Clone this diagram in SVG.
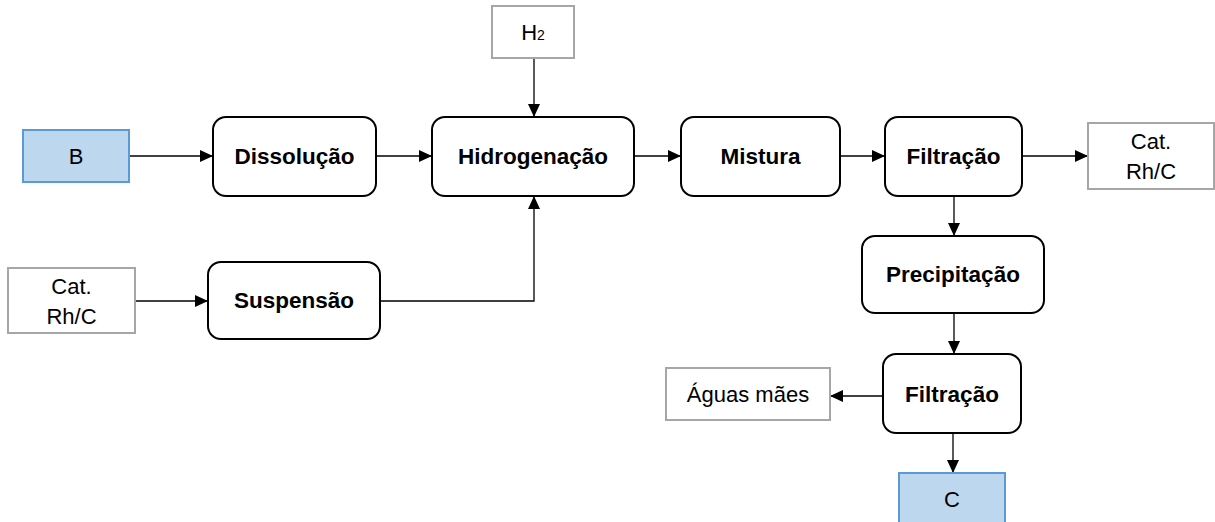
<svg xmlns="http://www.w3.org/2000/svg" width="1215" height="522" viewBox="0 0 1215 522">
<defs>
<marker id="ah" markerWidth="13" markerHeight="12" refX="13" refY="6" orient="auto" markerUnits="userSpaceOnUse">
<path d="M0,0 L13,6 L0,12 Z" fill="#000"/>
</marker>
<style>
.proc{fill:#fff;stroke:#000;stroke-width:2}
.io{fill:#fff;stroke:#a6a6a6;stroke-width:2}
.prod{fill:#bdd7ee;stroke:#5b9bd5;stroke-width:2}
.b{font-family:"Liberation Sans",Arial,sans-serif;font-weight:bold;font-size:22.5px;fill:#000;text-anchor:middle;dominant-baseline:central}
.r{font-family:"Liberation Sans",Arial,sans-serif;font-size:22px;fill:#000;text-anchor:middle;dominant-baseline:central}
.c{fill:none;stroke:#000;stroke-width:1.3;marker-end:url(#ah)}
</style>
</defs>
<rect width="1215" height="522" fill="#fff"/>
<g id="connectors">
<path class="c" d="M129,156 H213"/>
<path class="c" d="M376,156 H432"/>
<path class="c" d="M534,58 V117"/>
<path class="c" d="M634,156 H681"/>
<path class="c" d="M840,156 H885"/>
<path class="c" d="M1022,156 H1088"/>
<path class="c" d="M135,301 H208"/>
<path class="c" d="M380,301 H534 V196"/>
<path class="c" d="M954,196 V236"/>
<path class="c" d="M954,313 V354"/>
<path class="c" d="M883,396 H830"/>
<path class="c" d="M953,433 V473"/>
</g>
<g id="nB"><rect class="prod" x="23" y="130" width="106" height="52"/><text class="r" x="76" y="156">B</text></g>
<g id="nDissolucao"><rect class="proc" x="213" y="117" width="163" height="79" rx="13"/><text class="b" x="294.5" y="156.5">Dissolução</text></g>
<g id="nH2"><rect class="io" x="492" y="6" width="82" height="52"/><text class="r" x="533" y="32">H<tspan font-size="14" dy="3">2</tspan></text></g>
<g id="nHidrogenacao"><rect class="proc" x="432" y="117" width="202" height="79" rx="13"/><text class="b" x="533" y="156.5">Hidrogenação</text></g>
<g id="nMistura"><rect class="proc" x="681" y="117" width="159" height="79" rx="13"/><text class="b" x="760.5" y="156.5">Mistura</text></g>
<g id="nFiltracao1"><rect class="proc" x="885" y="117" width="137" height="79" rx="13"/><text class="b" x="953.5" y="156.5">Filtração</text></g>
<g id="nCatRhC1"><rect class="io" x="1088" y="123" width="126" height="66"/><text class="r" x="1151" y="141">Cat.</text><text class="r" x="1151" y="171">Rh/C</text></g>
<g id="nCatRhC2"><rect class="io" x="8" y="268" width="127" height="65"/><text class="r" x="71.5" y="286">Cat.</text><text class="r" x="71.5" y="316">Rh/C</text></g>
<g id="nSuspensao"><rect class="proc" x="208" y="262" width="172" height="77" rx="13"/><text class="b" x="294" y="300.5">Suspensão</text></g>
<g id="nPrecipitacao"><rect class="proc" x="862" y="236" width="182" height="77" rx="13"/><text class="b" x="953" y="274.5">Precipitação</text></g>
<g id="nFiltracao2"><rect class="proc" x="883" y="354" width="138" height="79" rx="13"/><text class="b" x="952" y="394">Filtração</text></g>
<g id="nAguas"><rect class="io" x="666" y="368" width="164" height="52"/><text class="r" x="748" y="394">Águas mães</text></g>
<g id="nC"><rect class="prod" x="899" y="473" width="106" height="55"/><text class="r" x="952" y="499">C</text></g>
</svg>
